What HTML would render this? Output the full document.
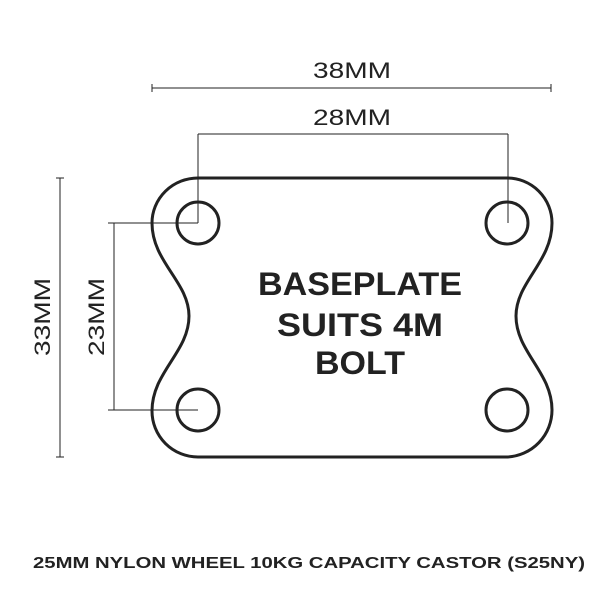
<!DOCTYPE html>
<html><head><style>html,body{margin:0;padding:0;background:#fff}</style></head>
<body>
<svg width="600" height="600" viewBox="0 0 600 600" xmlns="http://www.w3.org/2000/svg" font-family="Liberation Sans, sans-serif">
<rect width="600" height="600" fill="#fff"/>
<g stroke="#222" fill="none" stroke-width="1">
<line x1="152" y1="88" x2="551" y2="88"/>
<line x1="152" y1="84" x2="152" y2="92"/><line x1="551" y1="84" x2="551" y2="92"/>
<line x1="198" y1="134" x2="508" y2="134"/>
<line x1="198" y1="134" x2="198" y2="223"/><line x1="508" y1="134" x2="508" y2="223"/>
<line x1="60" y1="178" x2="60" y2="457"/>
<line x1="56" y1="178" x2="64" y2="178"/><line x1="56" y1="457" x2="64" y2="457"/>
<line x1="114" y1="223" x2="114" y2="410"/>
<line x1="108" y1="223" x2="198" y2="223"/><line x1="108" y1="410" x2="198" y2="410"/>
</g>
<g stroke="#222" fill="none" stroke-width="3">
<path d="M198,178 L507,178 A45,45 0 0 1 552,223 C552,262 516,282 516,316 C516,352 552,372 552,410 A47,47 0 0 1 507,457 L198,457 A46,46 0 0 1 152,411 C152,372 189,352 189,316 C189,282 152,262 152,223 A46,45 0 0 1 198,178 Z"/>
<circle cx="198" cy="223" r="21"/><circle cx="507" cy="223" r="21"/>
<circle cx="198" cy="410" r="21"/><circle cx="507" cy="410" r="21"/>
</g>
<g fill="#222" font-size="22" text-anchor="middle">
<text x="352" y="78" textLength="78" lengthAdjust="spacingAndGlyphs">38MM</text>
<text x="352" y="125" textLength="78" lengthAdjust="spacingAndGlyphs">28MM</text>
<text transform="translate(50,317) rotate(-90)" textLength="78" lengthAdjust="spacingAndGlyphs">33MM</text>
<text transform="translate(104,317) rotate(-90)" textLength="78" lengthAdjust="spacingAndGlyphs">23MM</text>
</g>
<g fill="#222" font-size="32" font-weight="bold" text-anchor="middle">
<text x="360" y="295" textLength="204" lengthAdjust="spacingAndGlyphs">BASEPLATE</text>
<text x="360" y="336" textLength="166" lengthAdjust="spacingAndGlyphs">SUITS 4M</text>
<text x="360" y="374" textLength="90" lengthAdjust="spacingAndGlyphs">BOLT</text>
</g>
<text x="309" y="568" fill="#222" font-size="16" font-weight="bold" text-anchor="middle" textLength="552" lengthAdjust="spacingAndGlyphs">25MM NYLON WHEEL 10KG CAPACITY CASTOR (S25NY)</text>
</svg>
</body></html>
